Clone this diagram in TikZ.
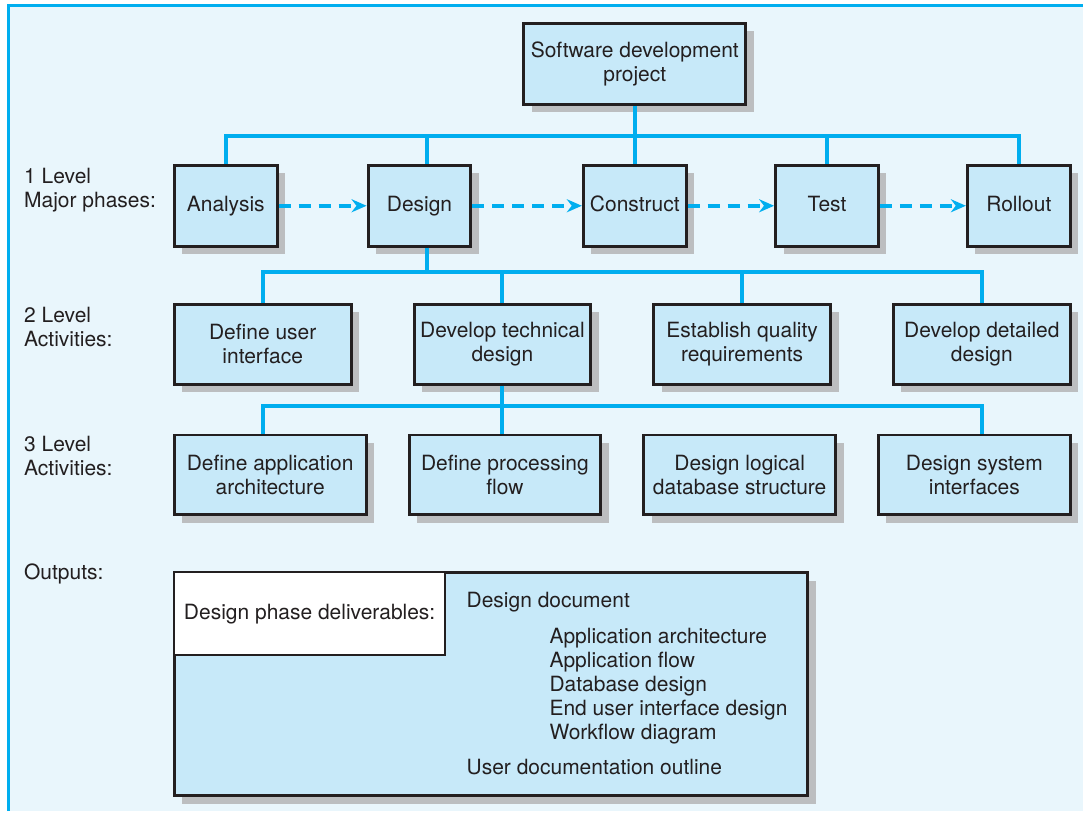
\documentclass[tikz,border=0pt]{standalone}
\usepackage{fontspec}
\setmainfont{TeX Gyre Heros}
\usetikzlibrary{arrows.meta,shadows,positioning}
\definecolor{framecyan}{HTML}{00AEEF}
\definecolor{pagetint}{HTML}{E9F6FC}
\definecolor{boxfill}{HTML}{C7E9F9}
\definecolor{inkdark}{HTML}{231F20}
\definecolor{shadegray}{HTML}{BCBEC0}

\begin{document}
\begin{tikzpicture}[x=1pt,y=-1pt,
  every node/.style={text=inkdark,font=\fontsize{21}{24}\selectfont},
  wbs/.style={draw=inkdark,line width=3pt,fill=boxfill,align=center,inner sep=2pt,
    drop shadow={shadow xshift=8pt,shadow yshift=-8pt,fill=shadegray,opacity=1}},
  phase/.style={wbs,minimum width=103pt,minimum height=81pt,text height=15pt,text depth=4.5pt},
  activity/.style={wbs,minimum width=177pt,minimum height=80pt},
  task/.style={wbs,minimum width=192pt,minimum height=80pt},
  link/.style={draw=framecyan,line width=4pt},
  flow/.style={link,dash pattern=on 12pt off 8pt,-{Stealth[length=15pt,width=13pt]}},
  lvl/.style={anchor=west,align=left,inner sep=0pt}]

\fill[white] (0,0) rectangle (1084,812);
\fill[pagetint] (8,5) rectangle (1084,812);
\draw[framecyan,line width=2.5pt] (8.5,812) -- (8.5,5.5) -- (1084,5.5);

\node[lvl] (l1) at (24,190) {1 Level\\Major phases:};
\node[lvl] (l2) at (24,327) {2 Level\\Activities:};
\node[lvl] (l3) at (24,457) {3 Level\\Activities:};
\node[lvl] (l4) at (24,575) {Outputs:};

\node[wbs,minimum width=222pt,minimum height=81pt] (root) at (635.5,64) {Software development\\project};

\node[phase] (analysis) at (226,206) {Analysis};
\node[phase] (design) at (420,206) {Design};
\node[phase] (construct) at (635.5,206) {Construct};
\node[phase] (test) at (828,206) {Test};
\node[phase] (rollout) at (1020,206) {Rollout};

\node[activity] (defui) at (263,344.5) {Define user\\interface};
\node[activity] (devtech) at (503,344.5) {Develop technical\\design};
\node[activity] (quality) at (743,344.5) {Establish quality\\requirements};
\node[activity] (detailed) at (983,344.5) {Develop detailed\\design};

\node[task] (apparch) at (270.5,475.5) {Define application\\architecture};
\node[task] (procflow) at (505.5,475.5) {Define processing\\flow};
\node[task] (logicdb) at (740.5,475.5) {Design logical\\database structure};
\node[task] (sysif) at (975.5,475.5) {Design system\\interfaces};

% level 1
\draw[link] (root.south) -- ++(0,30) coordinate (bus1);
\draw[link] (analysis.north) |- (bus1) -| (rollout.north);
\draw[link] ([xshift=7pt]design.north) -- ([xshift=7pt]design.north |- bus1);
\draw[link] (construct.north) -- (bus1);
\draw[link] (test.north) -- (test.north |- bus1);

\draw[flow] (analysis) -- (design);
\draw[flow] (design) -- (construct);
\draw[flow] (construct) -- (test);
\draw[flow] (test) -- (rollout);

% level 2
\draw[link] ([xshift=7pt]design.south) -- ++(0,24) coordinate (bus2);
\draw[link] (defui.north) |- (bus2) -| (detailed.north);
\draw[link] (devtech.north) -- (devtech.north |- bus2);
\draw[link] (quality.north) -- (quality.north |- bus2);

% level 3
\draw[link] (devtech.south) -- ++(0,20) coordinate (bus3);
\draw[link] (apparch.north -| defui) |- (bus3) -| (sysif.north -| detailed);
\draw[link] (procflow.north -| devtech) -- (bus3);
\draw[link] (logicdb.north -| quality) -- (logicdb.north -| quality |- bus3);

% outputs
\node[wbs,anchor=north west,minimum width=634pt,minimum height=223pt] (outbox) at (173,572) {};
\node[draw=inkdark,line width=2pt,fill=white,anchor=north west,minimum width=272pt,minimum height=83pt] (deliv) at (173,572) {Design phase deliverables:};
\node[anchor=west,inner sep=0pt] (designdoc) at (467,603) {Design document};
\node[anchor=north west,align=left,inner sep=0pt] (items) at (550,629) {Application architecture\\Application flow\\Database design\\End user interface design\\Workflow diagram};
\node[anchor=west,inner sep=0pt] (userdoc) at (467,768) {User documentation outline};

\end{tikzpicture}
\end{document}
